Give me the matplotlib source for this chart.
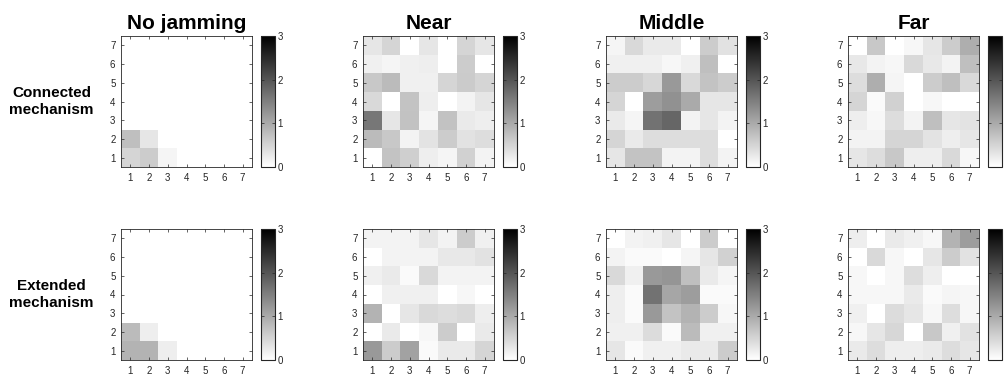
"""2x4 grid of 7x7 heat maps: no jamming / near / middle / far, for the two mechanisms."""
import matplotlib
matplotlib.use("Agg")
import matplotlib.pyplot as plt
import numpy as np

plt.rcParams["font.family"] = ["Liberation Sans", "DejaVu Sans"]

COLS = ["No jamming", "Near", "Middle", "Far"]
ROWS = ["Connected\nmechanism", "Extended\nmechanism"]
TICKS = [1, 2, 3, 4, 5, 6, 7]
CBAR_TICKS = [0, 1, 2, 3]

# each grid written top row (y=7) first, down to y=1; columns x=1..7
conn_none = [
    [0, 0, 0, 0, 0, 0, 0],
    [0, 0, 0, 0, 0, 0, 0],
    [0, 0, 0, 0, 0, 0, 0],
    [0, 0, 0, 0, 0, 0, 0],
    [0, 0, 0, 0, 0, 0, 0],
    [0.75, 0.3, 0, 0, 0, 0, 0],
    [0.5, 0.6, 0.12, 0, 0, 0, 0],
]
conn_near = [
    [0.3, 0.5, 0, 0.3, 0, 0.5, 0.3],
    [0.18, 0.12, 0.18, 0.2, 0, 0.6, 0],
    [0.65, 0.8, 0.18, 0.18, 0.5, 0.62, 0.5],
    [0.45, 0, 0.7, 0.2, 0, 0.15, 0.3],
    [1.6, 0.3, 0.72, 0.12, 0.72, 0.25, 0.2],
    [0.8, 0.65, 0.15, 0.33, 0.6, 0.35, 0.4],
    [0, 0.7, 0.57, 0.2, 0.12, 0.55, 0.15],
]
conn_mid = [
    [0.12, 0.45, 0.25, 0.25, 0, 0.6, 0.35],
    [0.18, 0.18, 0.18, 0.1, 0.18, 0.75, 0],
    [0.6, 0.6, 0.48, 1.2, 0.45, 0.7, 0.6],
    [0.5, 0, 1.15, 1.3, 1.0, 0.3, 0.3],
    [0.25, 0.12, 1.65, 1.8, 0.15, 0.3, 0.15],
    [0.5, 0.25, 0.4, 0.4, 0.4, 0.4, 0],
    [0.3, 0.7, 0.7, 0.15, 0.15, 0.4, 0.15],
]
conn_far = [
    [0, 0.65, 0, 0.1, 0.3, 0.6, 0.95],
    [0.27, 0.15, 0.1, 0.45, 0.27, 0.15, 0.75],
    [0.4, 0.95, 0.12, 0, 0.6, 0.75, 0.45],
    [0.5, 0.06, 0.55, 0, 0.1, 0, 0],
    [0.2, 0.1, 0.4, 0.15, 0.75, 0.3, 0.33],
    [0.15, 0.15, 0.5, 0.5, 0.33, 0.2, 0.3],
    [0.3, 0.4, 0.65, 0.2, 0.2, 0.45, 0.1],
]
ext_none = [
    [0, 0, 0, 0, 0, 0, 0],
    [0, 0, 0, 0, 0, 0, 0],
    [0, 0, 0, 0, 0, 0, 0],
    [0, 0, 0, 0, 0, 0, 0],
    [0, 0, 0, 0, 0, 0, 0],
    [0.8, 0.2, 0, 0, 0, 0, 0],
    [0.9, 0.9, 0.2, 0, 0, 0, 0],
]
ext_near = [
    [0.15, 0.15, 0.15, 0.3, 0.15, 0.6, 0.18],
    [0, 0.15, 0.15, 0.15, 0.27, 0.27, 0.35],
    [0.18, 0.25, 0.06, 0.45, 0.15, 0.15, 0.15],
    [0, 0.18, 0.18, 0.18, 0, 0.1, 0],
    [0.9, 0, 0.3, 0.45, 0.4, 0.45, 0.2],
    [0, 0.25, 0, 0.1, 0.6, 0, 0.25],
    [1.2, 0.6, 1.1, 0.06, 0.25, 0.25, 0.5],
]
ext_mid = [
    [0, 0.15, 0.18, 0.3, 0, 0.6, 0],
    [0.15, 0.06, 0.06, 0, 0.12, 0.3, 0.55],
    [0.45, 0.18, 1.2, 1.25, 0.75, 0.25, 0.12],
    [0.2, 0.06, 1.65, 1.05, 1.15, 0.06, 0.06],
    [0.2, 0.06, 1.2, 0.7, 0.9, 0.6, 0.1],
    [0.18, 0.18, 0.42, 0.06, 0.8, 0.18, 0.18],
    [0.3, 0.06, 0.18, 0.18, 0.25, 0.25, 0.6],
]
ext_far = [
    [0.2, 0, 0.25, 0.18, 0.1, 0.9, 1.15],
    [0, 0.45, 0.1, 0, 0.3, 0.6, 0.35],
    [0.1, 0, 0.1, 0.4, 0.2, 0, 0],
    [0.1, 0.1, 0.1, 0.25, 0.06, 0.12, 0.1],
    [0.18, 0, 0.42, 0.3, 0.1, 0.4, 0.1],
    [0.1, 0.3, 0.48, 0, 0.65, 0.18, 0.35],
    [0.25, 0.4, 0.2, 0.2, 0.25, 0.4, 0.3],
]

grids = [[conn_none, conn_near, conn_mid, conn_far],
         [ext_none, ext_near, ext_mid, ext_far]]

W, H = 1005, 379
fig = plt.figure(figsize=(W / 100, H / 100), dpi=100)

lefts = [121, 363, 606, 848]
tops = [36, 229]
size = 131
edge = "#262626"

for r in range(2):
    for c in range(4):
        x0, y0 = lefts[c], tops[r]
        ax = fig.add_axes([x0 / W, 1 - (y0 + size) / H, size / W, size / H])
        data = np.array(grids[r][c])[::-1]
        im = ax.imshow(data, cmap="gray_r", vmin=0, vmax=3, origin="lower",
                       extent=[0.5, 7.5, 0.5, 7.5], aspect="auto",
                       interpolation="nearest")
        ax.set_xticks(TICKS)
        ax.set_yticks(TICKS)
        ax.tick_params(direction="in", length=2.5, width=0.5, labelsize=7,
                       top=True, right=True, colors=edge, pad=4)
        for s in ax.spines.values():
            s.set_linewidth(0.6)
            s.set_color(edge)
        if r == 0:
            ax.set_title(COLS[c], fontsize=15, fontweight="bold", pad=5)
        if c == 0:
            ax.text(-0.53, 0.5, ROWS[r], transform=ax.transAxes, ha="center",
                    va="center", fontsize=11, fontweight="bold",
                    linespacing=1.25)

        cax = fig.add_axes([(x0 + size + 9) / W, 1 - (y0 + size) / H,
                            14 / W, size / H])
        cb = fig.colorbar(im, cax=cax, ticks=CBAR_TICKS)
        cb.outline.set_linewidth(0.8)
        cb.outline.set_edgecolor(edge)
        # the last colour bar sits at the right edge; its labels fall outside the picture
        cax.tick_params(direction="in", length=2.5, width=0.5, labelsize=7,
                        left=True, right=True, colors=edge, pad=2,
                        labelright=(c < 3))

fig.savefig("out.png", dpi=100)
